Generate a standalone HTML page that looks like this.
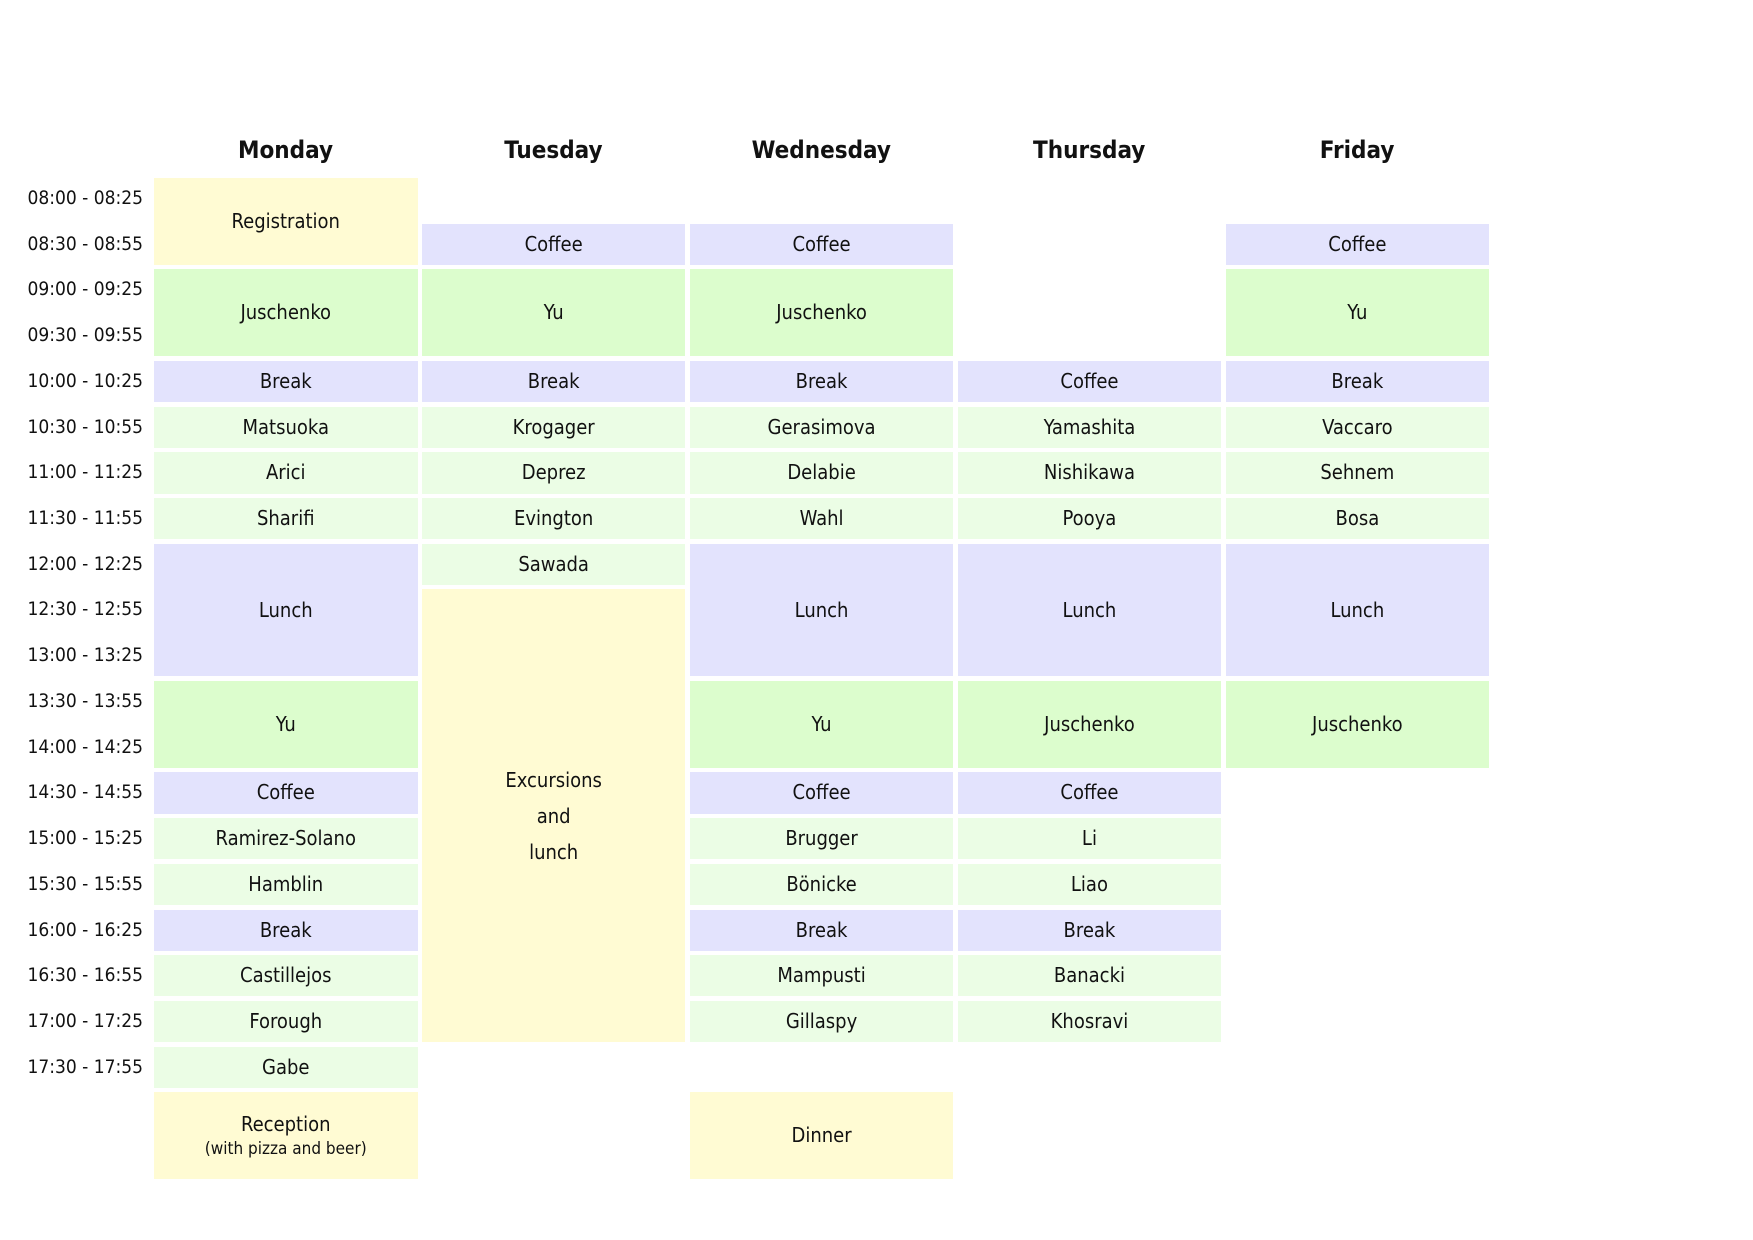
<!DOCTYPE html>
<html><head><meta charset="utf-8"><style>
body{margin:0;width:1753px;height:1240px;background:#fff;position:relative;overflow:hidden;font-family:"DejaVu Sans Condensed","Liberation Sans Narrow","Liberation Sans",sans-serif;}
.c{position:absolute;display:flex;align-items:center;justify-content:center;text-align:center;font-size:20px;color:#111;line-height:1.15;}
.t{position:absolute;left:0;width:143px;text-align:right;font-size:19px;color:#111;}
.h{position:absolute;width:263px;text-align:center;font-size:24px;font-weight:bold;top:136px;color:#111;}
</style></head><body>
<div id="root"></div>
<script>
var Y='#fffbd3',B='#e3e3fd',G='#dcfdcd',L='#ebfde5';
var X0=154,CP=267.9,W=263.5,R0=178,RP=45.72,GAP=4.5;
var html='';
var days=['Monday','Tuesday','Wednesday','Thursday','Friday'];
days.forEach(function(d,i){html+='<div class="h" style="left:'+(X0+CP*i)+'px">'+d+'</div>';});
for(var i=0;i<20;i++){var h=8+Math.floor(i/2),m=i%2?'30':'00',m2=i%2?'55':'25';var hh=(h<10?'0':'')+h;
html+='<div class="t" style="top:'+(R0+RP*i+9)+'px">'+hh+':'+m+' - '+hh+':'+m2+'</div>';}
function c(col,r,s,bg,txt){html+='<div class="c" style="left:'+(X0+CP*col)+'px;width:'+W+'px;top:'+(R0+RP*r)+'px;height:'+(RP*s-GAP)+'px;background:'+bg+'">'+txt+'</div>';}
c(0,0,2,Y,'Registration');c(0,2,2,G,'Juschenko');c(0,4,1,B,'Break');c(0,5,1,L,'Matsuoka');c(0,6,1,L,'Arici');c(0,7,1,L,'Sharifi');c(0,8,3,B,'Lunch');c(0,11,2,G,'Yu');c(0,13,1,B,'Coffee');c(0,14,1,L,'Ramirez-Solano');c(0,15,1,L,'Hamblin');c(0,16,1,B,'Break');c(0,17,1,L,'Castillejos');c(0,18,1,L,'Forough');c(0,19,1,L,'Gabe');c(0,20,2,Y,'<div>Reception<br><span style="font-size:17px">(with pizza and beer)</span></div>');
c(1,1,1,B,'Coffee');c(1,2,2,G,'Yu');c(1,4,1,B,'Break');c(1,5,1,L,'Krogager');c(1,6,1,L,'Deprez');c(1,7,1,L,'Evington');c(1,8,1,L,'Sawada');c(1,9,10,Y,'<div style="line-height:36px">Excursions<br>and<br>lunch</div>');
c(2,1,1,B,'Coffee');c(2,2,2,G,'Juschenko');c(2,4,1,B,'Break');c(2,5,1,L,'Gerasimova');c(2,6,1,L,'Delabie');c(2,7,1,L,'Wahl');c(2,8,3,B,'Lunch');c(2,11,2,G,'Yu');c(2,13,1,B,'Coffee');c(2,14,1,L,'Brugger');c(2,15,1,L,'Bönicke');c(2,16,1,B,'Break');c(2,17,1,L,'Mampusti');c(2,18,1,L,'Gillaspy');c(2,20,2,Y,'Dinner');
c(3,4,1,B,'Coffee');c(3,5,1,L,'Yamashita');c(3,6,1,L,'Nishikawa');c(3,7,1,L,'Pooya');c(3,8,3,B,'Lunch');c(3,11,2,G,'Juschenko');c(3,13,1,B,'Coffee');c(3,14,1,L,'Li');c(3,15,1,L,'Liao');c(3,16,1,B,'Break');c(3,17,1,L,'Banacki');c(3,18,1,L,'Khosravi');
c(4,1,1,B,'Coffee');c(4,2,2,G,'Yu');c(4,4,1,B,'Break');c(4,5,1,L,'Vaccaro');c(4,6,1,L,'Sehnem');c(4,7,1,L,'Bosa');c(4,8,3,B,'Lunch');c(4,11,2,G,'Juschenko');
document.getElementById('root').innerHTML=html;
</script>
</body></html>
